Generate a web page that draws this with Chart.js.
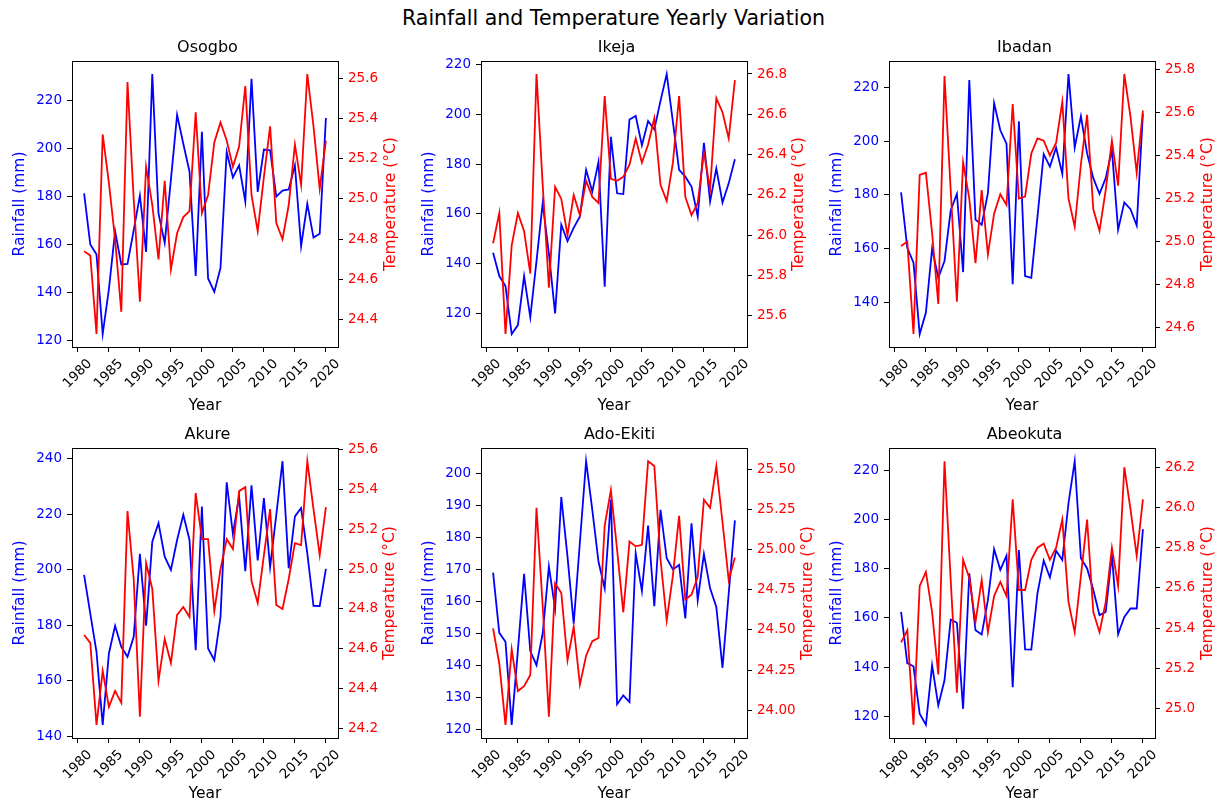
<!DOCTYPE html>
<html><head><meta charset="utf-8">
<script src="https://cdn.jsdelivr.net/npm/chart.js@4.4.0/dist/chart.umd.min.js"></script>
<style>
html,body{margin:0;padding:0;background:#fff;}
body{width:1223px;height:803px;position:relative;overflow:hidden;font-family:"DejaVu Sans",sans-serif;}
#title{position:absolute;left:0;width:1227px;top:6px;text-align:center;font-size:20.5px;line-height:24px;color:#000;}
canvas{position:absolute;}
</style></head><body>
<div id="title">Rainfall and Temperature Yearly Variation</div>
<canvas id="c0"></canvas><canvas id="c1"></canvas><canvas id="c2"></canvas>
<canvas id="c3"></canvas><canvas id="c4"></canvas><canvas id="c5"></canvas>
<script>
const years = [1981,1982,1983,1984,1985,1986,1987,1988,1989,1990,1991,1992,1993,1994,1995,1996,1997,1998,1999,2000,2001,2002,2003,2004,2005,2006,2007,2008,2009,2010,2011,2012,2013,2014,2015,2016,2017,2018,2019,2020];
const yearTicks = [1980,1985,1990,1995,2000,2005,2010,2015,2020];

const osogboRain = [181.4,160.1,156,122.9,141.5,165.6,151.8,152,166,180.5,157,231,173,160.8,187,214,202,190.4,147,207,146,140.4,150.4,198.6,188,193,178,229,182,199.6,199.3,180,182.5,183,193,159.4,177,163,164.6,212.7];
const osogboTemp = [24.74,24.72,24.33,25.32,25.08,24.80,24.44,25.58,25.00,24.49,25.16,24.97,24.70,25.09,24.65,24.83,24.91,24.94,25.43,24.93,25.02,25.28,25.38,25.29,25.16,25.26,25.56,25.02,24.84,25.11,25.36,24.88,24.80,24.97,25.27,25.07,25.62,25.36,25.05,25.29];
const ikejaRain = [144.4,135,131,111.7,115.3,135,118.4,141,164.3,144,120,155.7,149,154.4,159,177.7,169,181,130.7,191,168.3,168,198,199.4,187.6,197.4,194,205.5,216.3,197,177.7,175,171,159,188.6,165,178.3,164.6,172.3,182];
const ikejaTemp = [25.96,26.11,25.51,25.95,26.11,26.02,25.81,26.80,26.25,25.74,26.24,26.18,26.00,26.20,26.10,26.27,26.19,26.16,26.69,26.28,26.27,26.29,26.35,26.48,26.36,26.45,26.58,26.25,26.17,26.36,26.69,26.19,26.10,26.16,26.41,26.23,26.68,26.61,26.48,26.77];
const ibadanRain = [180.9,160.3,154.8,128.3,136.3,160,149.2,155.4,174.2,180.4,151.3,222.7,170.8,168.9,180.6,214.1,204,199,146.8,207.3,149.8,149.2,172,195.1,190.5,197.6,187.8,224.9,197.6,209.2,195.4,186.2,180.4,186.2,196.6,167,177.2,174.7,168.6,210.2];
const ibadanTemp = [24.98,25.00,24.57,25.31,25.32,25.04,24.71,25.77,25.24,24.72,25.37,25.20,24.90,25.24,24.94,25.13,25.22,25.17,25.64,25.20,25.21,25.41,25.48,25.47,25.40,25.46,25.65,25.20,25.07,25.36,25.59,25.15,25.05,25.24,25.47,25.26,25.78,25.58,25.32,25.61];
const akureRain = [198.2,184.3,170.5,144.2,169.9,179.9,172.3,168.7,175.9,205.8,179.9,210.2,216.9,204.8,200,210.8,219.9,210.8,171.1,222.9,171.7,167.5,183.1,231.6,213,226.5,199.6,230.5,203.4,225.9,201,219.9,239.2,200.6,219.3,222.3,206,187.1,187,200.4];
const akureTemp = [24.67,24.63,24.22,24.49,24.31,24.39,24.33,25.29,24.95,24.26,25.03,24.90,24.44,24.65,24.53,24.77,24.81,24.76,25.38,25.15,25.15,24.79,25.00,25.15,25.10,25.39,25.41,24.94,24.83,25.07,25.30,24.82,24.80,24.95,25.13,25.12,25.54,25.30,25.07,25.31];
const adoEkitiRain = [169.1,150.3,147.5,121.6,144.9,168.7,144.6,140.2,150.1,171,157.9,192.7,174.1,153.2,178.6,203.9,188.7,172.5,164.2,191.9,128,130.8,128.7,175.1,163.4,183.8,158.6,188.7,173.6,170.1,171.5,154.8,184.5,160.5,174.9,164.2,158.4,139.4,162.6,185.4];
const adoEkitiTemp = [24.51,24.29,23.91,24.38,24.12,24.15,24.22,25.26,24.65,23.96,24.79,24.73,24.31,24.52,24.16,24.34,24.43,24.45,25.15,25.37,25.00,24.61,25.05,25.02,25.03,25.55,25.52,24.94,24.56,24.84,25.21,24.69,24.72,24.83,25.31,25.26,25.52,25.17,24.81,24.95];
const abeokutaRain = [162.4,141.6,140.3,121,116.5,140.7,124.4,134.6,159.3,158,123,178.1,155,153.2,167.2,187.9,179.5,185.3,131.8,187.6,147.2,147.1,170,183.3,176.5,187.3,183.5,206.7,223.7,184.2,180.1,171.3,161.1,162.4,185.6,153.3,160.4,163.8,163.8,196.1];
const abeokutaTemp = [25.33,25.39,24.92,25.61,25.68,25.48,25.17,26.23,25.64,25.08,25.74,25.65,25.43,25.64,25.38,25.56,25.63,25.56,26.04,25.59,25.59,25.74,25.80,25.82,25.74,25.80,25.94,25.53,25.38,25.66,25.94,25.48,25.38,25.53,25.80,25.61,26.20,25.99,25.76,26.04];

const osogboRainTicks = [120,140,160,180,200,220];
const osogboTempTicks = [24.4,24.6,24.8,25.0,25.2,25.4,25.6];
const ikejaRainTicks = [120,140,160,180,200,220];
const ikejaTempTicks = [25.6,25.8,26.0,26.2,26.4,26.6,26.8];
const ibadanRainTicks = [140,160,180,200,220];
const ibadanTempTicks = [24.6,24.8,25.0,25.2,25.4,25.6,25.8];
const akureRainTicks = [140,160,180,200,220,240];
const akureTempTicks = [24.2,24.4,24.6,24.8,25.0,25.2,25.4,25.6];
const adoEkitiRainTicks = [120,130,140,150,160,170,180,190,200];
const adoEkitiTempTicks = [24.00,24.25,24.50,24.75,25.00,25.25,25.50];
const abeokutaRainTicks = [120,140,160,180,200,220];
const abeokutaTempTicks = [25.0,25.2,25.4,25.6,25.8,26.0,26.2];

const cityNames = ['Osogbo','Ikeja','Ibadan','Akure','Ado-Ekiti','Abeokuta'];
const mainTitle = 'Rainfall and Temperature Yearly Variation';
const xLabel = 'Year';
const rainLabel = 'Rainfall (mm)';
const tempLabel = 'Temperature (°C)';

const FONT = "'DejaVu Sans', sans-serif";
const BLUE = '#0000ff', RED = '#ff0000';
const LW = 61, TH = 27, PW = 266;
const TICK_SIZE = 13.5, LABEL_SIZE = 15.5;

const framePlugin = {
  id: 'frameTop',
  afterDraw(chart) {
    const a = chart.chartArea, ctx = chart.ctx;
    ctx.save();
    ctx.strokeStyle = '#000'; ctx.lineWidth = 1;
    const y = Math.round(a.top) + 0.5;
    ctx.beginPath(); ctx.moveTo(Math.round(a.left), y); ctx.lineTo(Math.round(a.right) + 1, y); ctx.stroke();
    ctx.restore();
  }
};
const rightTitlePlugin = {
  id: 'rightTitle',
  afterDraw(chart, args, opts) {
    const a = chart.chartArea, ctx = chart.ctx;
    ctx.save();
    ctx.fillStyle = RED;
    ctx.font = LABEL_SIZE + 'px ' + FONT;
    ctx.textAlign = 'center'; ctx.textBaseline = 'middle';
    ctx.translate(a.right + opts.offset, (a.top + a.bottom) / 2);
    ctx.rotate(-Math.PI / 2);
    ctx.fillText(opts.text, 0, 0);
    ctx.restore();
  }
};

function padRange(vals) {
  const mn = Math.min(...vals), mx = Math.max(...vals), m = (mx - mn) * 0.05;
  return [mn - m, mx + m];
}

function makeChart(id, cfg) {
  const cv = document.getElementById(id);
  const W = LW + PW + cfg.rw, H = TH + cfg.plotH + cfg.xh;
  cv.width = W; cv.height = H;
  cv.style.width = W + 'px'; cv.style.height = H + 'px';
  cv.style.left = (cfg.plotLeft - LW) + 'px';
  cv.style.top = (cfg.plotTop - TH) + 'px';
  const [rMin, rMax] = padRange(cfg.rain);
  const [tMin, tMax] = padRange(cfg.temp);
  const xm = (years[years.length - 1] - years[0]) * 0.05;
  const tickFont = {family: FONT, size: TICK_SIZE};
  const gridOpts = {drawOnChartArea: false, drawTicks: true, tickLength: 5, color: '#000'};
  const borderOpts = {display: true, color: '#000', width: 1};
  new Chart(cv, {
    type: 'line',
    data: {datasets: [
      {label: tempLabel, data: years.map((y, i) => ({x: y, y: cfg.temp[i]})), yAxisID: 'yT',
       borderColor: RED, backgroundColor: RED, borderWidth: 1.8, pointRadius: 0, tension: 0, fill: false},
      {label: rainLabel, data: years.map((y, i) => ({x: y, y: cfg.rain[i]})), yAxisID: 'yR',
       borderColor: BLUE, backgroundColor: BLUE, borderWidth: 1.8, pointRadius: 0, tension: 0, fill: false}
    ]},
    options: {
      responsive: false, animation: false, devicePixelRatio: 1,
      layout: {padding: 0},
      events: [],
      plugins: {
        legend: {display: false}, tooltip: {enabled: false},
        title: {display: true, text: cfg.name, color: '#000',
                font: {family: FONT, size: 16, weight: 'normal', lineHeight: 1.25}, padding: {top: 4, bottom: 3}},
        rightTitle: {offset: cfg.rOff, text: tempLabel}
      },
      scales: {
        x: {type: 'linear', min: years[0] - xm, max: years[years.length - 1] + xm,
            afterBuildTicks: s => { s.ticks = yearTicks.map(v => ({value: v})); },
            afterFit: s => { s.height = cfg.xh; },
            ticks: {autoSkip: false, maxRotation: 45, minRotation: 45, color: '#000', font: tickFont,
                    padding: 4, labelOffset: 12, callback: v => String(v)},
            grid: gridOpts, border: borderOpts,
            title: {display: true, text: xLabel, color: '#000', font: {family: FONT, size: LABEL_SIZE, lineHeight: 1.2}, padding: {top: 0, bottom: 0}}},
        yR: {type: 'linear', position: 'left', min: rMin, max: rMax,
             afterBuildTicks: s => { s.ticks = cfg.rainTicks.map(v => ({value: v})); },
             afterFit: s => { s.width = LW; },
             ticks: {color: BLUE, font: tickFont, padding: 5, callback: v => String(v)},
             grid: gridOpts, border: borderOpts,
             title: {display: true, text: rainLabel, color: BLUE, font: {family: FONT, size: LABEL_SIZE, lineHeight: 1.2}, padding: {top: 0, bottom: 0}}},
        yT: {type: 'linear', position: 'right', min: tMin, max: tMax,
             afterBuildTicks: s => { s.ticks = cfg.tempTicks.map(v => ({value: v})); },
             afterFit: s => { s.width = cfg.rw; },
             ticks: {color: RED, font: tickFont, padding: 5, callback: v => Number(v).toFixed(cfg.dec)},
             grid: gridOpts, border: borderOpts,
             title: {display: false}}
      }
    },
    plugins: [framePlugin, rightTitlePlugin]
  });
}

const colLefts = [72, 481, 889];
const rowTops = [61, 448];
const rowHeights = [286, 290];
const rowXH = [68, 65];
makeChart('c0', {name: cityNames[0], rain: osogboRain, temp: osogboTemp, rainTicks: osogboRainTicks, tempTicks: osogboTempTicks, dec: 1, plotLeft: colLefts[0], plotTop: rowTops[0], plotH: rowHeights[0], xh: rowXH[0], rw: 66, rOff: 53});
makeChart('c1', {name: cityNames[1], rain: ikejaRain, temp: ikejaTemp, rainTicks: ikejaRainTicks, tempTicks: ikejaTempTicks, dec: 1, plotLeft: colLefts[1], plotTop: rowTops[0], plotH: rowHeights[0], xh: rowXH[0], rw: 66, rOff: 52});
makeChart('c2', {name: cityNames[2], rain: ibadanRain, temp: ibadanTemp, rainTicks: ibadanRainTicks, tempTicks: ibadanTempTicks, dec: 1, plotLeft: colLefts[2], plotTop: rowTops[0], plotH: rowHeights[0], xh: rowXH[0], rw: 66, rOff: 53});
makeChart('c3', {name: cityNames[3], rain: akureRain, temp: akureTemp, rainTicks: akureRainTicks, tempTicks: akureTempTicks, dec: 1, plotLeft: colLefts[0], plotTop: rowTops[1], plotH: rowHeights[1], xh: rowXH[1], rw: 66, rOff: 52});
makeChart('c4', {name: cityNames[4], rain: adoEkitiRain, temp: adoEkitiTemp, rainTicks: adoEkitiRainTicks, tempTicks: adoEkitiTempTicks, dec: 2, plotLeft: colLefts[1], plotTop: rowTops[1], plotH: rowHeights[1], xh: rowXH[1], rw: 72, rOff: 61});
makeChart('c5', {name: cityNames[5], rain: abeokutaRain, temp: abeokutaTemp, rainTicks: abeokutaRainTicks, tempTicks: abeokutaTempTicks, dec: 1, plotLeft: colLefts[2], plotTop: rowTops[1], plotH: rowHeights[1], xh: rowXH[1], rw: 66, rOff: 53});
document.getElementById('title').textContent = mainTitle;
</script>
</body></html>
